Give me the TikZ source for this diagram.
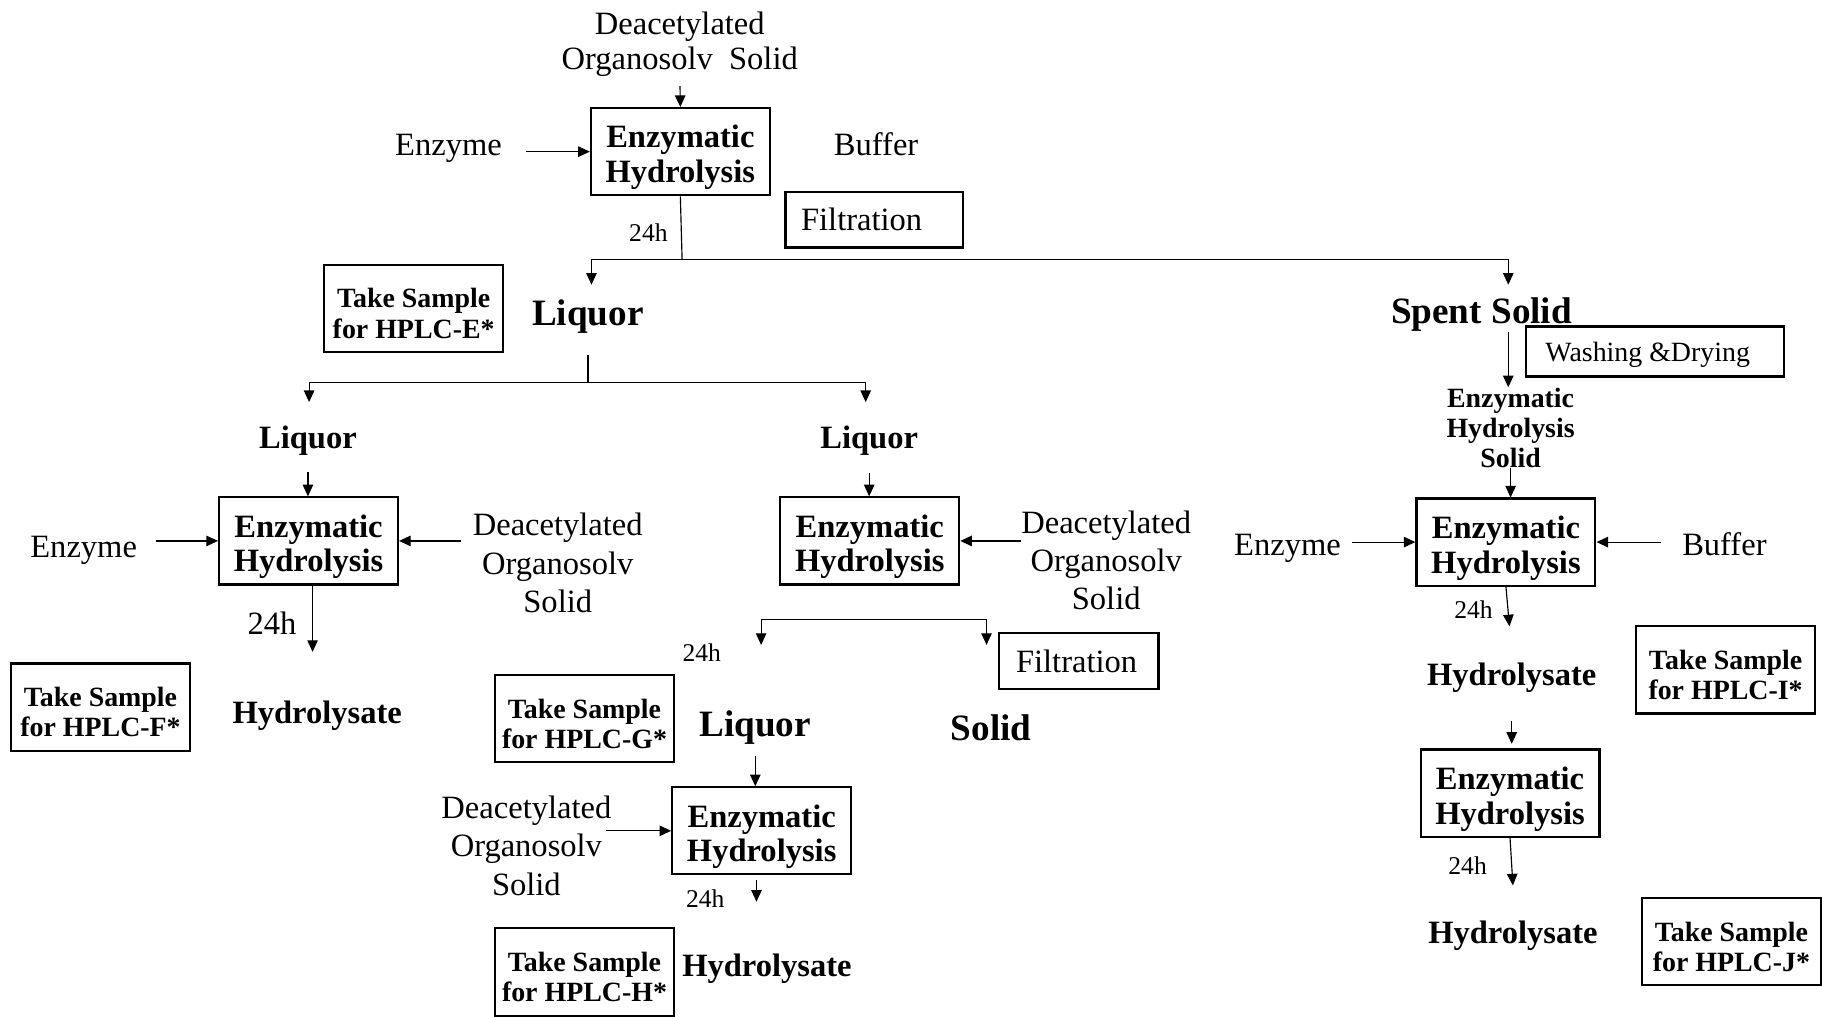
\documentclass[tikz,border=0pt]{standalone}
\usepackage{fontspec}
\setmainfont{Liberation Serif}
\usetikzlibrary{arrows.meta,calc}

\begin{document}
\begin{tikzpicture}[x=0.5pt,y=-0.5pt,
  every node/.style={inner sep=0pt, align=center},
  proc/.style={draw, line width=0.9pt, minimum width=77pt, minimum height=37.5pt,
    text height=26.7pt, text depth=0pt,
    font=\fontsize{14}{15}\selectfont\bfseries},
  sample/.style={draw, line width=0.9pt, minimum width=77pt, minimum height=37.5pt,
    text height=25.5pt, text depth=0pt,
    font=\fontsize{12}{13}\selectfont\bfseries},
  plainbox/.style={draw, line width=0.9pt, minimum height=24pt, text depth=0pt},
  plain/.style={text depth=0pt, font=\fontsize{14}{16.5}\selectfont},
  tight/.style={text depth=0pt, font=\fontsize{14}{15}\selectfont},
  small/.style={text depth=0pt, font=\fontsize{11}{12}\selectfont},
  big/.style={text depth=0pt, font=\fontsize{16}{18}\selectfont\bfseries},
  mid/.style={text depth=0pt, font=\fontsize{14}{15}\selectfont\bfseries},
  midsmall/.style={text depth=0pt, font=\fontsize{12}{13}\selectfont\bfseries},
  arr/.style={-{Triangle[length=5pt,width=4.5pt]}, line width=0.5pt},
  ln/.style={line width=0.5pt}]

\useasboundingbox (0,0) rectangle (1568,875);

% ---------- first hydrolysis ----------
\node[tight] (ds1) at (585,35) {Deacetylated\\Organosolv\ \ Solid};
\node[proc] (eh1) at (585.5,130.5) {Enzymatic\\Hydrolysis};
\node[plain] (enz1) at (386,125) {Enzyme};
\node[plain] (buf1) at (754,124) {Buffer};
\node[plainbox, plain, minimum width=76.5pt] (fil1) at (752.5,189) {Filtration\hspace{11pt}};
\node[small] (t1) at (558,200) {24h};

\draw[arr, shorten <=7pt] (ds1.south) -- (eh1.north);
\draw[arr, shorten <=10pt] (enz1.east |- eh1) -- (eh1.west);

\coordinate (s1) at (587,223);
\coordinate (liqEin) at (509,245);
\coordinate (ssin) at (1298,245);
\draw[ln] (eh1.south) -- (s1);
\draw[arr] (s1) -| (liqEin);
\draw[arr] (s1) -| (ssin);

\node[sample] (tsE) at (356,265.5) {Take Sample\\for HPLC-E*};
\node[big] (liqE) at (506,269) {Liquor};

\coordinate (s2) at (506,329);
\coordinate (liqFin) at (266,346);
\coordinate (liqGin) at (745,346);
\draw[ln, shorten <=12.5pt] (liqE.south) -- (s2);
\draw[arr] (s2) -| (liqFin);
\draw[arr] (s2) -| (liqGin);

% ---------- left branch ----------
\node[mid] (liqF) at (265,376) {Liquor};
\node[proc] (ehF) at (265.5,465.5) {Enzymatic\\Hydrolysis};
\node[plain] (enzF) at (72,471) {Enzyme};
\node[plain] (dsF) at (480,484.5) {Deacetylated\\Organosolv\\Solid};
\node[plain] (tF) at (234,536) {24h};
\node[sample] (tsF) at (86.5,608.5) {Take Sample\\for HPLC-F*};
\node[mid] (hydF) at (273,613) {Hydrolysate};
\coordinate (hFin) at (269,561);

\draw[arr, shorten <=10pt] (liqF.south) -- (liqF.south |- ehF.north);
\draw[arr, shorten <=8pt] (enzF.east |- ehF) -- (ehF.west);
\draw[arr, shorten <=5pt] (dsF.west |- ehF) -- (ehF.east);
\draw[arr] (ehF.south -| hFin) -- (hFin);

% ---------- middle branch ----------
\node[mid] (liqG) at (748,376) {Liquor};
\node[proc] (ehG) at (748.5,465.5) {Enzymatic\\Hydrolysis};
\node[plain] (dsG) at (952,482) {Deacetylated\\Organosolv\\Solid};
\draw[arr, shorten <=10.5pt] (liqG.south) -- (liqG.south |- ehG.north);
\draw[arr] (dsG.west |- ehG) -- (ehG.east);

\coordinate (s3L) at (655,533);
\coordinate (s3R) at (849,533);
\coordinate (gL) at (655,555);
\coordinate (gR) at (849,555);
\draw[arr] (s3L) -- (gL);
\draw[arr] (s3L) -- (s3R) -- (gR);

\node[small] (tG) at (604,562) {24h};
\node[plainbox, plain, minimum width=68.5pt] (fil2) at (928.5,569) {Filtration\hspace{2pt}};
\node[sample] (tsG) at (503,618.5) {Take Sample\\for HPLC-G*};
\node[big] (liqH) at (650,623) {Liquor};
\node[big] (solH) at (853,626) {Solid};
\node[proc] (ehH) at (655.5,715) {Enzymatic\\Hydrolysis};
\node[plain] (dsH) at (453,727.5) {Deacetylated\\Organosolv\\Solid};
\node[small] (tH) at (607,773) {24h};
\node[sample] (tsH) at (503,836.5) {Take Sample\\for HPLC-H*};
\node[mid] (hydH) at (660,831) {Hydrolysate};
\coordinate (hHin) at (651,776);

\draw[arr, shorten <=8pt] (liqH.south) -- (liqH.south |- ehH.north);
\draw[arr, shorten <=-2.5pt] (dsH.east |- ehH) -- (ehH.west);
\draw[arr, shorten <=2pt] (ehH.south -| hHin) -- (hHin);

% ---------- right branch ----------
\node[big] (ss) at (1275,267) {Spent Solid};
\node[plainbox, font=\fontsize{12}{13}\selectfont, minimum width=111pt, minimum height=21.5pt] (wd) at (1424,302.5) {Washing \&Drying\hspace{6pt}};
\node[midsmall] (ehs) at (1300,368) {Enzymatic\\Hydrolysis\\Solid};
\node[proc] (ehI) at (1296,466.5) {Enzymatic\\Hydrolysis};
\node[plain] (enzI) at (1108,469) {Enzyme};
\node[plain] (bufI) at (1484,468) {Buffer};
\node[small] (tI) at (1268,525) {24h};
\node[mid] (hydI) at (1301,580) {Hydrolysate};
\node[sample] (tsI) at (1485,576.5) {Take Sample\\for HPLC-I*};
\node[proc] (ehJ) at (1299.5,682.5) {Enzymatic\\Hydrolysis};
\node[small] (tJ) at (1263,745) {24h};
\node[mid] (hydJ) at (1302,802) {Hydrolysate};
\node[sample] (tsJ) at (1490,810.5) {Take Sample\\for HPLC-J*};
\coordinate (hIin) at (1299,539);
\coordinate (hJin) at (1302,762);

\draw[arr, shorten <=3.5pt] (ssin |- ss.south) -- (ssin |- ehs.north);
\draw[arr] (ehs.south) -- (ehs.south |- ehI.north);
\draw[arr, shorten <=4.5pt] (enzI.east |- ehI) -- (ehI.west);
\draw[arr, shorten <=9pt] (bufI.west |- ehI) -- (ehI.east);
\draw[arr] (ehI.south) -- (hIin);
\draw[arr, shorten <=15pt, shorten >=2pt] (hydI.south) -- (hydI.south |- ehJ.north);
\draw[arr] (ehJ.south) -- (hJin);

\end{tikzpicture}
\end{document}
